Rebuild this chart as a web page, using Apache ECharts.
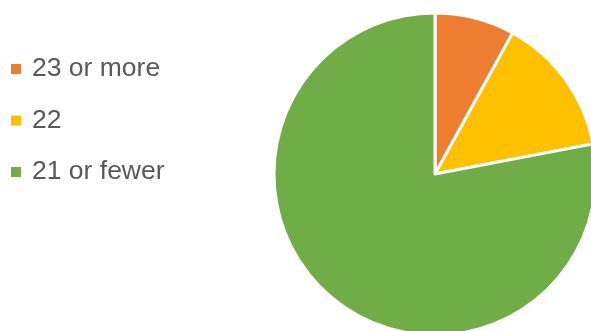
<!DOCTYPE html>
<html>
<head>
<meta charset="utf-8">
<script src="https://cdn.jsdelivr.net/npm/echarts@6/dist/echarts.min.js"></script>
<style>
  html, body { margin: 0; padding: 0; background: #fff; }
  #chart { width: 591px; height: 331px; }
</style>
</head>
<body>
<div id="chart"></div>
<script>
// Share of group by age bracket
const categories = ['23 or more', '22', '21 or fewer'];
const values = [8, 14, 78];
const colors = ['#ED7D31', '#FFC000', '#70AD47'];

const chart = echarts.init(document.getElementById('chart'), null, { renderer: 'canvas' });
chart.setOption({
  animation: false,
  backgroundColor: '#ffffff',
  legend: {
    orient: 'vertical',
    left: 9,
    top: 55,
    padding: 0,
    itemWidth: 12,
    itemHeight: 12,
    itemGap: 23.5,
    icon: 'rect',
    textStyle: {
      fontFamily: 'Liberation Sans',
      fontSize: 26.5,
      lineHeight: 28,
      color: '#595959',
      padding: [0, 0, 0, 5]
    },
    data: categories
  },
  series: [{
    type: 'pie',
    center: [435, 174],
    radius: 161,
    startAngle: 90,
    clockwise: true,
    label: { show: false },
    labelLine: { show: false },
    emphasis: { disabled: true },
    itemStyle: { borderColor: '#ffffff', borderWidth: 3 },
    data: categories.map((name, i) => ({
      name: name,
      value: values[i],
      itemStyle: { color: colors[i] }
    }))
  }]
});
</script>
</body>
</html>
